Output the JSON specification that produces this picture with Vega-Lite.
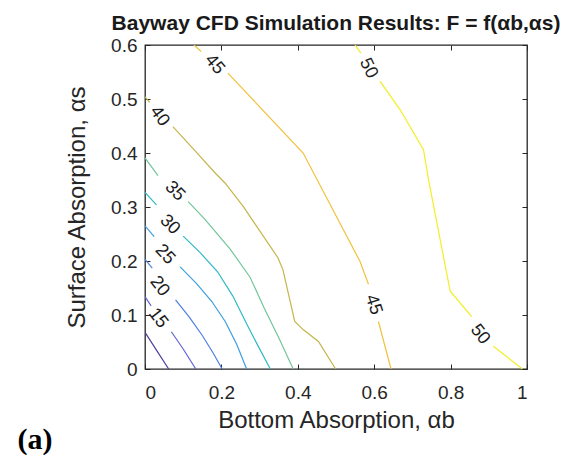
{
  "$schema": "https://vega.github.io/schema/vega-lite/v6.json",
  "width": 382,
  "height": 324,
  "autosize": {"type": "none"},
  "padding": {"left": 145, "top": 45, "right": 42, "bottom": 88},
  "background": "white",
  "config": {
    "font": "Liberation Sans",
    "view": {"stroke": "#262626", "strokeWidth": 1.3},
    "axis": {
      "grid": false,
      "domain": false,
      "tickColor": "#262626",
      "tickSize": -5,
      "tickWidth": 1,
      "labelColor": "#262626",
      "labelFont": "Liberation Sans",
      "labelFontSize": 19,
      "titleColor": "#262626",
      "titleFont": "Liberation Sans",
      "titleFontSize": 24,
      "titleFontWeight": "normal"
    }
  },
  "title": {
    "text": "Bayway CFD Simulation Results: F = f(αb,αs)",
    "font": "Liberation Sans",
    "fontSize": 21,
    "fontWeight": "bold",
    "color": "#1a1a1a",
    "anchor": "middle",
    "frame": "group",
    "baseline": "alphabetic",
    "offset": 14,
    "dy": 29
  },
  "datasets": {
    "contours": [
      {"level": 10, "seg": "10a", "i": 0, "alpha_b": 0.0, "alpha_s": 0.068},
      {"level": 10, "seg": "10a", "i": 1, "alpha_b": 0.03, "alpha_s": 0.035},
      {"level": 10, "seg": "10a", "i": 2, "alpha_b": 0.062, "alpha_s": 0.0},

      {"level": 15, "seg": "15a", "i": 0, "alpha_b": 0.0, "alpha_s": 0.134},
      {"level": 15, "seg": "15a", "i": 1, "alpha_b": 0.016, "alpha_s": 0.117},
      {"level": 15, "seg": "15b", "i": 0, "alpha_b": 0.069, "alpha_s": 0.069},
      {"level": 15, "seg": "15b", "i": 1, "alpha_b": 0.1, "alpha_s": 0.037},
      {"level": 15, "seg": "15b", "i": 2, "alpha_b": 0.133, "alpha_s": 0.0},

      {"level": 20, "seg": "20a", "i": 0, "alpha_b": 0.0, "alpha_s": 0.203},
      {"level": 20, "seg": "20a", "i": 1, "alpha_b": 0.019, "alpha_s": 0.187},
      {"level": 20, "seg": "20b", "i": 0, "alpha_b": 0.08, "alpha_s": 0.128},
      {"level": 20, "seg": "20b", "i": 1, "alpha_b": 0.115, "alpha_s": 0.097},
      {"level": 20, "seg": "20b", "i": 2, "alpha_b": 0.15, "alpha_s": 0.062},
      {"level": 20, "seg": "20b", "i": 3, "alpha_b": 0.178, "alpha_s": 0.03},
      {"level": 20, "seg": "20b", "i": 4, "alpha_b": 0.202, "alpha_s": 0.0},

      {"level": 25, "seg": "25a", "i": 0, "alpha_b": 0.0, "alpha_s": 0.265},
      {"level": 25, "seg": "25a", "i": 1, "alpha_b": 0.024, "alpha_s": 0.245},
      {"level": 25, "seg": "25b", "i": 0, "alpha_b": 0.092, "alpha_s": 0.189},
      {"level": 25, "seg": "25b", "i": 1, "alpha_b": 0.135, "alpha_s": 0.158},
      {"level": 25, "seg": "25b", "i": 2, "alpha_b": 0.175, "alpha_s": 0.125},
      {"level": 25, "seg": "25b", "i": 3, "alpha_b": 0.21, "alpha_s": 0.088},
      {"level": 25, "seg": "25b", "i": 4, "alpha_b": 0.24, "alpha_s": 0.046},
      {"level": 25, "seg": "25b", "i": 5, "alpha_b": 0.266, "alpha_s": 0.0},

      {"level": 30, "seg": "30a", "i": 0, "alpha_b": 0.0, "alpha_s": 0.327},
      {"level": 30, "seg": "30a", "i": 1, "alpha_b": 0.03, "alpha_s": 0.304},
      {"level": 30, "seg": "30b", "i": 0, "alpha_b": 0.1, "alpha_s": 0.246},
      {"level": 30, "seg": "30b", "i": 1, "alpha_b": 0.145, "alpha_s": 0.215},
      {"level": 30, "seg": "30b", "i": 2, "alpha_b": 0.19, "alpha_s": 0.18},
      {"level": 30, "seg": "30b", "i": 3, "alpha_b": 0.23, "alpha_s": 0.135},
      {"level": 30, "seg": "30b", "i": 4, "alpha_b": 0.265, "alpha_s": 0.085},
      {"level": 30, "seg": "30b", "i": 5, "alpha_b": 0.298, "alpha_s": 0.04},
      {"level": 30, "seg": "30b", "i": 6, "alpha_b": 0.328, "alpha_s": 0.0},

      {"level": 35, "seg": "35a", "i": 0, "alpha_b": 0.0, "alpha_s": 0.391},
      {"level": 35, "seg": "35a", "i": 1, "alpha_b": 0.034, "alpha_s": 0.358},
      {"level": 35, "seg": "35b", "i": 0, "alpha_b": 0.113, "alpha_s": 0.31},
      {"level": 35, "seg": "35b", "i": 1, "alpha_b": 0.157, "alpha_s": 0.277},
      {"level": 35, "seg": "35b", "i": 2, "alpha_b": 0.223, "alpha_s": 0.222},
      {"level": 35, "seg": "35b", "i": 3, "alpha_b": 0.275, "alpha_s": 0.17},
      {"level": 35, "seg": "35b", "i": 4, "alpha_b": 0.312, "alpha_s": 0.113},
      {"level": 35, "seg": "35b", "i": 5, "alpha_b": 0.352, "alpha_s": 0.055},
      {"level": 35, "seg": "35b", "i": 6, "alpha_b": 0.388, "alpha_s": 0.0},

      {"level": 40, "seg": "40a", "i": 0, "alpha_b": 0.0, "alpha_s": 0.504},
      {"level": 40, "seg": "40a", "i": 1, "alpha_b": 0.012, "alpha_s": 0.494},
      {"level": 40, "seg": "40b", "i": 0, "alpha_b": 0.073, "alpha_s": 0.449},
      {"level": 40, "seg": "40b", "i": 1, "alpha_b": 0.13, "alpha_s": 0.405},
      {"level": 40, "seg": "40b", "i": 2, "alpha_b": 0.185, "alpha_s": 0.362},
      {"level": 40, "seg": "40b", "i": 3, "alpha_b": 0.21, "alpha_s": 0.344},
      {"level": 40, "seg": "40b", "i": 4, "alpha_b": 0.257, "alpha_s": 0.301},
      {"level": 40, "seg": "40b", "i": 5, "alpha_b": 0.348, "alpha_s": 0.206},
      {"level": 40, "seg": "40b", "i": 6, "alpha_b": 0.361, "alpha_s": 0.184},
      {"level": 40, "seg": "40b", "i": 7, "alpha_b": 0.392, "alpha_s": 0.088},
      {"level": 40, "seg": "40b", "i": 8, "alpha_b": 0.414, "alpha_s": 0.073},
      {"level": 40, "seg": "40b", "i": 9, "alpha_b": 0.454, "alpha_s": 0.051},
      {"level": 40, "seg": "40b", "i": 10, "alpha_b": 0.499, "alpha_s": 0.0},

      {"level": 45, "seg": "45a", "i": 0, "alpha_b": 0.128, "alpha_s": 0.6},
      {"level": 45, "seg": "45a", "i": 1, "alpha_b": 0.147, "alpha_s": 0.588},
      {"level": 45, "seg": "45b", "i": 0, "alpha_b": 0.217, "alpha_s": 0.548},
      {"level": 45, "seg": "45b", "i": 1, "alpha_b": 0.414, "alpha_s": 0.4},
      {"level": 45, "seg": "45b", "i": 2, "alpha_b": 0.563, "alpha_s": 0.199},
      {"level": 45, "seg": "45b", "i": 3, "alpha_b": 0.585, "alpha_s": 0.157},
      {"level": 45, "seg": "45c", "i": 0, "alpha_b": 0.611, "alpha_s": 0.088},
      {"level": 45, "seg": "45c", "i": 1, "alpha_b": 0.644, "alpha_s": 0.0},

      {"level": 50, "seg": "50a", "i": 0, "alpha_b": 0.55, "alpha_s": 0.6},
      {"level": 50, "seg": "50a", "i": 1, "alpha_b": 0.565, "alpha_s": 0.585},
      {"level": 50, "seg": "50b", "i": 0, "alpha_b": 0.615, "alpha_s": 0.533},
      {"level": 50, "seg": "50b", "i": 1, "alpha_b": 0.668, "alpha_s": 0.48},
      {"level": 50, "seg": "50b", "i": 2, "alpha_b": 0.729, "alpha_s": 0.406},
      {"level": 50, "seg": "50b", "i": 3, "alpha_b": 0.742, "alpha_s": 0.351},
      {"level": 50, "seg": "50b", "i": 4, "alpha_b": 0.799, "alpha_s": 0.144},
      {"level": 50, "seg": "50b", "i": 5, "alpha_b": 0.855, "alpha_s": 0.097},
      {"level": 50, "seg": "50c", "i": 0, "alpha_b": 0.912, "alpha_s": 0.042},
      {"level": 50, "seg": "50c", "i": 1, "alpha_b": 0.988, "alpha_s": 0.0}
    ],
    "labels": [
      {"level": 45, "alpha_b": 0.182, "alpha_s": 0.564, "angle": 50},
      {"level": 50, "alpha_b": 0.585, "alpha_s": 0.557, "angle": 64},
      {"level": 40, "alpha_b": 0.038, "alpha_s": 0.468, "angle": 54},
      {"level": 35, "alpha_b": 0.078, "alpha_s": 0.329, "angle": 45},
      {"level": 30, "alpha_b": 0.065, "alpha_s": 0.267, "angle": 45},
      {"level": 25, "alpha_b": 0.052, "alpha_s": 0.212, "angle": 47},
      {"level": 20, "alpha_b": 0.038, "alpha_s": 0.153, "angle": 52},
      {"level": 15, "alpha_b": 0.034, "alpha_s": 0.094, "angle": 52},
      {"level": 45, "alpha_b": 0.598, "alpha_s": 0.119, "angle": 72},
      {"level": 50, "alpha_b": 0.877, "alpha_s": 0.064, "angle": 52}
    ]
  },
  "resolve": {"axis": {"x": "independent", "y": "independent"}},
  "layer": [
    {
      "data": {"name": "contours"},
      "mark": {"type": "line", "strokeWidth": 1.2, "clip": true, "interpolate": "linear"},
      "encoding": {
        "x": {
          "field": "alpha_b",
          "type": "quantitative",
          "scale": {"domain": [0, 1], "nice": false, "zero": false},
          "axis": {
            "orient": "bottom",
            "values": [0, 0.2, 0.4, 0.6, 0.8, 1],
            "format": "~g",
            "labelPadding": 19,
            "titlePadding": 6,
            "title": "Bottom Absorption, αb"
          }
        },
        "y": {
          "field": "alpha_s",
          "type": "quantitative",
          "scale": {"domain": [0, 0.6], "nice": false, "zero": false},
          "axis": {
            "orient": "left",
            "values": [0, 0.1, 0.2, 0.3, 0.4, 0.5, 0.6],
            "format": "~g",
            "labelPadding": 13,
            "titlePadding": 21,
            "title": "Surface Absorption, αs"
          }
        },
        "color": {
          "field": "level",
          "type": "ordinal",
          "scale": {
            "domain": [10, 15, 20, 25, 30, 35, 40, 45, 50],
            "range": ["#4f3f9f", "#6466d6", "#4d80e3", "#3d9fe0", "#2fb8c6", "#72c69a", "#c3b64b", "#f0c23c", "#f2ee22"]
          },
          "legend": null
        },
        "detail": {"field": "seg", "type": "nominal"},
        "order": {"field": "i", "type": "quantitative"}
      }
    },
    {
      "data": {"name": "labels"},
      "mark": {"type": "text", "font": "Liberation Sans", "fontSize": 18, "color": "#1a1a1a", "align": "center", "baseline": "middle"},
      "encoding": {
        "x": {"field": "alpha_b", "type": "quantitative", "axis": null},
        "y": {"field": "alpha_s", "type": "quantitative", "axis": null},
        "text": {"field": "level", "type": "nominal"},
        "angle": {"field": "angle", "type": "quantitative", "scale": null}
      }
    },
    {
      "data": {"name": "labels"},
      "mark": {"type": "point", "opacity": 0},
      "encoding": {
        "x": {
          "field": "alpha_b",
          "type": "quantitative",
          "axis": {"orient": "top", "values": [0, 0.2, 0.4, 0.6, 0.8, 1], "labels": false, "title": null, "minExtent": 0, "maxExtent": 0}
        },
        "y": {
          "field": "alpha_s",
          "type": "quantitative",
          "axis": {"orient": "right", "values": [0, 0.1, 0.2, 0.3, 0.4, 0.5, 0.6], "labels": false, "title": null, "minExtent": 0, "maxExtent": 0}
        }
      }
    },
    {
      "data": {"values": [{}]},
      "mark": {"type": "text", "font": "Liberation Serif", "fontWeight": "bold", "fontSize": 30, "color": "#000000", "align": "center", "baseline": "middle"},
      "encoding": {
        "x": {"datum": -0.288, "type": "quantitative", "axis": null},
        "y": {"datum": -0.131, "type": "quantitative", "axis": null},
        "text": {"value": "(a)"}
      }
    }
  ]
}
